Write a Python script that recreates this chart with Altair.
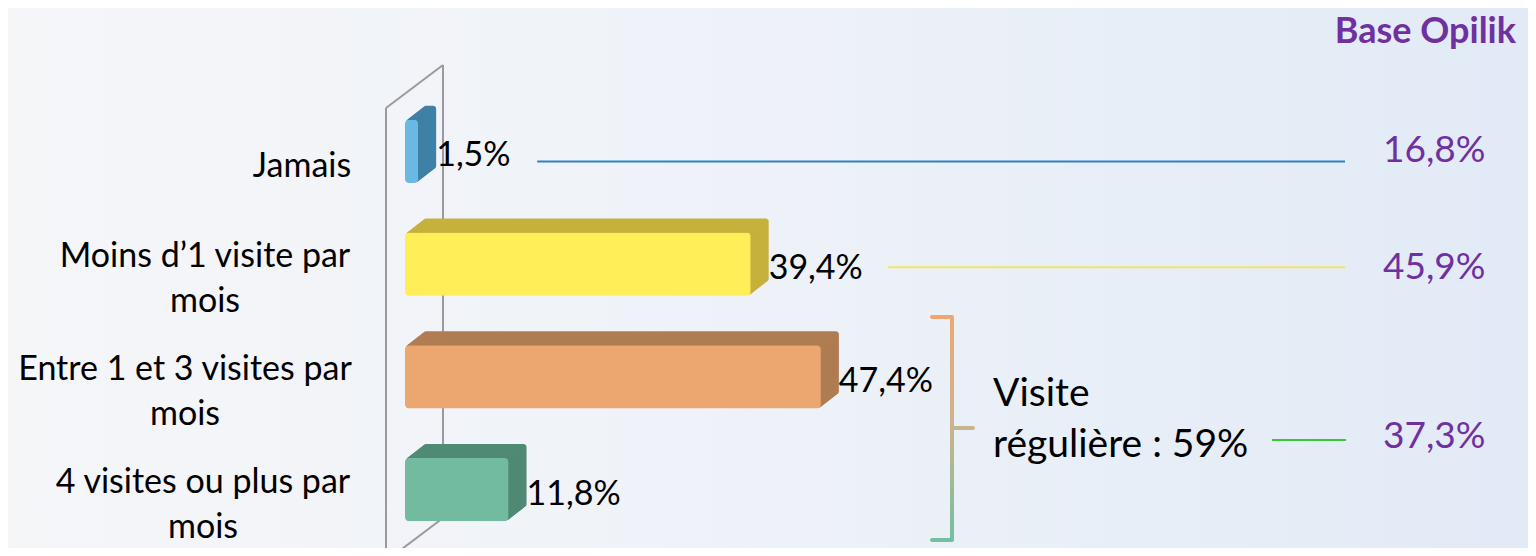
import altair as alt
import pandas as pd

# ---------------- data ----------------
cat_keys = ["jamais", "moins1", "entre1_3", "plus4"]
cat_labels = [
    "Jamais",
    "Moins d’1 visite par\nmois",
    "Entre 1 et 3 visites par\nmois",
    "4 visites ou plus par\nmois",
]
values = [1.5, 39.4, 47.4, 11.8]
base_opilik = [16.8, 45.9, 37.3]
regular_label = "Visite\nrégulière : 59%"
title_text = "Base Opilik"

# ---------------- styles / layout ----------------
front_colors = ["#69b9e4", "#ffee58", "#eca670", "#72bba1"]
depth_colors = ["#3f80a6", "#c5b13c", "#b07c52", "#4f8a74"]
FONT = "Lato"
FS = 34
W, H = 1123, 451
PAD_L, PAD_T = 397, 87
PURPLE = "#7030a0"
XMAX = 128
PX_PER_UNIT = W / XMAX

# label block centers (px, relative to plot origin)
label_cx = [-103, -200, -220, -202]
# rows of the purple 'Base Opilik' column (px)
base_py = [56, 173, 342]

df = pd.DataFrame({"cat": cat_keys, "label": cat_labels, "value": values, "lx": label_cx})

fmt = "replace(format(datum.value, '.1f'), '.', ',') + '%'"

yenc = alt.Y("cat:N", sort=cat_keys,
             scale=alt.Scale(domain=cat_keys, paddingInner=0.44, paddingOuter=0.22),
             axis=None)
xscale = alt.Scale(domain=[0, XMAX], nice=False, zero=True)
xenc = alt.X("value:Q", scale=xscale, axis=None)

base = alt.Chart(df)

# background gradient
bg = alt.Chart(pd.DataFrame({"a": [0]})).mark_rect(
    color=alt.LinearGradient(
        gradient="linear", x1=0, y1=0, x2=1, y2=0,
        stops=[alt.GradientStop(color="#f5f6f8", offset=0),
               alt.GradientStop(color="#eef2f8", offset=0.5),
               alt.GradientStop(color="#e1eaf6", offset=1)])
).encode(x=alt.value(-PAD_L), x2=alt.value(W), y=alt.value(-PAD_T), y2=alt.value(H + 2))

# wall outline
wall_df = pd.DataFrame({"a": [0]})
wall_segments = [
    (-19, 13, -19, 470),
    (-19, 13, 38, -30),
    (38, -30, 38, 423),
    (38, 423, -19, 466),
]
walls = [
    alt.Chart(wall_df).mark_rule(color="#9a9a9a", strokeWidth=2).encode(
        x=alt.value(a), y=alt.value(b), x2=alt.value(c), y2=alt.value(d))
    for (a, b, c, d) in wall_segments
]

# 3D depth of bars (stack of shifted copies)
depth_color = alt.Color("cat:N", scale=alt.Scale(domain=cat_keys, range=depth_colors), legend=None)
depth_layers = []
NSTEP = 16
for k in range(NSTEP, 0, -1):
    du = (18 * k / NSTEP) / PX_PER_UNIT
    dy = -14 * k / NSTEP
    depth_layers.append(
        base.transform_calculate(xs=f"{du}", xe=f"datum.value + {du}")
        .mark_bar(cornerRadius=3, yOffset=dy, y2Offset=dy)
        .encode(x=alt.X("xs:Q", scale=xscale, axis=None), x2="xe:Q", y=yenc, color=depth_color)
    )
depth = alt.layer(*depth_layers)

front = base.mark_bar(cornerRadius=4).encode(
    x=xenc, y=yenc,
    color=alt.Color("cat:N", scale=alt.Scale(domain=cat_keys, range=front_colors), legend=None))

vlabels = base.transform_calculate(txt=fmt).mark_text(
    align="left", baseline="middle", dx=18, dy=5, font=FONT, fontSize=FS, color="#000000"
).encode(x=xenc, y=yenc, text="txt:N")

clabels_single = alt.Chart(df.iloc[[0]]).mark_text(
    align="center", baseline="middle", font=FONT, fontSize=FS, color="#000000", yOffset=16
).encode(x=alt.X("lx:Q", scale=None), y=yenc, text="label:N")

clabels_multi = alt.Chart(df.iloc[1:]).mark_text(
    align="center", baseline="middle", lineBreak="\n", lineHeight=45,
    font=FONT, fontSize=FS, color="#000000", yOffset=-7
).encode(x=alt.X("lx:Q", scale=None), y=yenc, text="label:N")

# connector lines to the Base Opilik column
conn_colors = ["#2e82c2", "#f2e46a"]
conn_dy = [10, 3]
conns = []
for i in range(2):
    lab_len = len(f"{values[i]:.1f}") + 1
    off = 45 + 18.5 * lab_len
    conns.append(
        alt.Chart(df.iloc[[i]]).mark_rule(color=conn_colors[i], strokeWidth=2, xOffset=off, yOffset=conn_dy[i]).encode(
            x=xenc, x2=alt.value(940), y=yenc)
    )

green_rule = alt.Chart(pd.DataFrame({"a": [0]})).mark_rule(color="#3cc63c", strokeWidth=2).encode(
    x=alt.value(867), x2=alt.value(941), y=alt.value(345))

base_df = pd.DataFrame({"value": base_opilik, "py": base_py})
base_txt = alt.Chart(base_df).transform_calculate(txt=fmt).mark_text(
    align="left", baseline="middle", font=FONT, fontSize=37, color=PURPLE
).encode(x=alt.value(978), y=alt.Y("py:Q", scale=None), text="txt:N")

title = alt.Chart(pd.DataFrame({"t": [title_text]})).mark_text(
    align="right", baseline="middle", font=FONT, fontSize=36, fontWeight="bold", color=PURPLE
).encode(x=alt.value(W - 12), y=alt.value(-63), text="t:N")

reg = alt.Chart(pd.DataFrame({"t": [regular_label]})).mark_text(
    align="left", baseline="middle", lineBreak="\n", lineHeight=51,
    font=FONT, fontSize=39, color="#000000"
).encode(x=alt.value(588), y=alt.value(299), text="t:N")

# brace
one = pd.DataFrame({"a": [0]})
brace_v = alt.Chart(one).mark_rect(
    cornerRadius=2,
    color=alt.LinearGradient(
        gradient="linear", x1=0, y1=0, x2=0, y2=1,
        stops=[alt.GradientStop(color="#f0a66e", offset=0),
               alt.GradientStop(color="#c9b48e", offset=0.5),
               alt.GradientStop(color="#72bfa2", offset=1)])
).encode(x=alt.value(545), x2=alt.value(549), y=alt.value(222), y2=alt.value(446))
brace_top = alt.Chart(one).mark_rect(color="#f0a66e", cornerRadius=2).encode(
    x=alt.value(525), x2=alt.value(549), y=alt.value(220), y2=alt.value(224))
brace_mid = alt.Chart(one).mark_rect(color="#c9b48e", cornerRadius=2).encode(
    x=alt.value(545), x2=alt.value(570), y=alt.value(331), y2=alt.value(335))
brace_bot = alt.Chart(one).mark_rect(color="#72bfa2", cornerRadius=2).encode(
    x=alt.value(525), x2=alt.value(549), y=alt.value(443), y2=alt.value(447))

chart = alt.layer(
    bg, *walls, depth, front, vlabels, clabels_single, clabels_multi, *conns, green_rule,
    base_txt, title, reg, brace_v, brace_top, brace_mid, brace_bot
).resolve_scale(color="independent").properties(
    width=W, height=H,
    autosize=alt.AutoSizeParams(type="none"),
    padding={"left": PAD_L, "top": PAD_T, "right": 0, "bottom": 2},
    background="#eef2f8",
).configure_view(stroke=None)

chart.save("out.html", embed_options={"renderer": "svg", "actions": False})
